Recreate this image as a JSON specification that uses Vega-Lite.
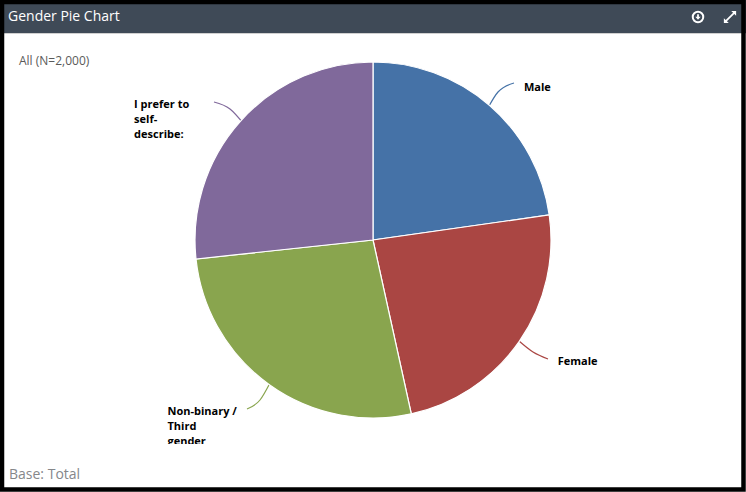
{
"$schema":"https://vega.github.io/schema/vega-lite/v6.json",
"width":746,"height":480,
"autosize":{"type":"none"},
"padding":{"left":0,"top":0,"right":0,"bottom":12},
"background":"#ffffff",
"config":{"view":{"stroke":null},"text":{"font":"Open Sans"}},
"datasets":{
"pie":[
{"category":"Male","count":455,"rank":1,"label":"Male"},
{"category":"Female","count":476,"rank":2,"label":"Female"},
{"category":"Non-binary / Third gender","count":535,"rank":3,"label":"Non-binary /\nThird\ngender"},
{"category":"I prefer to self-describe:","count":534,"rank":4,"label":"I prefer to\nself-\ndescribe:"}
],
"leaders":[
{"category":"Male","px":489,"py":106},{"category":"Male","px":498,"py":92},{"category":"Male","px":514,"py":83},
{"category":"Female","px":519,"py":341},{"category":"Female","px":533,"py":352},{"category":"Female","px":548,"py":359},
{"category":"Non-binary / Third gender","px":270,"py":383},{"category":"Non-binary / Third gender","px":260,"py":400},{"category":"Non-binary / Third gender","px":247,"py":409},
{"category":"I prefer to self-describe:","px":214,"py":102},{"category":"I prefer to self-describe:","px":230,"py":109},{"category":"I prefer to self-describe:","px":243,"py":123}
]
},
"data":{"name":"pie"},
"layer":[
{"data":{"name":"leaders"},
 "mark":{"type":"line","interpolate":"monotone","strokeWidth":1.2},
 "encoding":{
  "x":{"field":"px","type":"quantitative","scale":{"domain":[0,746],"range":[0,746],"nice":false,"zero":false},"axis":null},
  "y":{"field":"py","type":"quantitative","scale":{"domain":[0,480],"range":[0,480],"nice":false,"zero":false},"axis":null},
  "detail":{"field":"category"},
  "color":{"field":"category","type":"nominal","legend":null,"scale":{"domain":["Male","Female","Non-binary / Third gender","I prefer to self-describe:"],"range":["#4572A7","#AA4643","#89A54E","#80699B"]}}
 }},
{"mark":{"type":"arc","outerRadius":178,"stroke":"#ffffff","strokeWidth":1.2},
 "encoding":{
  "theta":{"field":"count","type":"quantitative","stack":true,"scale":{"domain":[0,2000]}},
  "order":{"field":"rank","type":"ordinal"},
  "color":{"field":"category","type":"nominal","legend":null}
 }},
{"mark":{"type":"text","radius":215,"dx":10,"dy":10,"align":"left","baseline":"middle","fontSize":11,"fontWeight":"bold","lineHeight":15,"lineBreak":"\n","fill":"#000000"},
 "encoding":{"theta":{"field":"count","type":"quantitative","stack":true},"order":{"field":"rank","type":"ordinal"},
  "text":{"condition":{"test":"datum.category==='Male'","field":"label"},"value":""}}},
{"mark":{"type":"text","radius":215,"dx":8,"dy":-1,"align":"left","baseline":"middle","fontSize":11,"fontWeight":"bold","lineHeight":15,"lineBreak":"\n","fill":"#000000"},
 "encoding":{"theta":{"field":"count","type":"quantitative","stack":true},"order":{"field":"rank","type":"ordinal"},
  "text":{"condition":{"test":"datum.category==='Female'","field":"label"},"value":""}}},
{"mark":{"type":"text","radius":215,"dx":-80,"dy":-3,"align":"left","baseline":"middle","fontSize":11,"fontWeight":"bold","lineHeight":15,"lineBreak":"\n","fill":"#000000"},
 "encoding":{"theta":{"field":"count","type":"quantitative","stack":true},"order":{"field":"rank","type":"ordinal"},
  "text":{"condition":{"test":"datum.rank===3","field":"label"},"value":""}}},
{"mark":{"type":"text","radius":215,"dx":-79,"dy":9,"align":"left","baseline":"middle","fontSize":11,"fontWeight":"bold","lineHeight":15,"lineBreak":"\n","fill":"#000000"},
 "encoding":{"theta":{"field":"count","type":"quantitative","stack":true},"order":{"field":"rank","type":"ordinal"},
  "text":{"condition":{"test":"datum.rank===4","field":"label"},"value":""}}},
{"data":{"values":[{}]},"mark":{"type":"rect","fill":"#ffffff"},
 "encoding":{"x":{"datum":100},"x2":{"datum":300},"y":{"datum":444},"y2":{"datum":462}}},
{"data":{"values":[{}]},"mark":{"type":"rect","fill":"#3F4A57"},
 "encoding":{"x":{"datum":0},"x2":{"datum":746},"y":{"datum":0},"y2":{"datum":33}}},
{"data":{"values":[{}]},"mark":{"type":"rect","fill":"#D0D0D0"},
 "encoding":{"x":{"datum":0},"x2":{"datum":746},"y":{"datum":33},"y2":{"datum":34}}},
{"data":{"values":[{}]},"mark":{"type":"rect","fill":"none","stroke":"#000000","strokeWidth":4.5},
 "encoding":{"x":{"datum":2},"x2":{"datum":743.5},"y":{"datum":2},"y2":{"datum":489.5}}},
{"data":{"values":[{}]},"mark":{"type":"text","text":"Gender Pie Chart","align":"left","baseline":"middle","fontSize":14,"fill":"#ffffff"},
 "encoding":{"x":{"datum":8},"y":{"datum":17}}},
{"data":{"values":[{}]},"mark":{"type":"text","text":"All (N=2,000)","align":"left","baseline":"middle","fontSize":12,"fill":"#5a5a5a"},
 "encoding":{"x":{"datum":19},"y":{"datum":61}}},
{"data":{"values":[{}]},"mark":{"type":"text","text":"Base: Total","align":"left","baseline":"middle","fontSize":14,"fill":"#85878a"},
 "encoding":{"x":{"datum":9},"y":{"datum":475}}},
{"data":{"values":[{}]},"mark":{"type":"point","shape":"circle","filled":false,"stroke":"#ffffff","strokeWidth":2,"size":110,"opacity":1},
 "encoding":{"x":{"datum":698},"y":{"datum":17}}},
{"data":{"values":[{}]},"mark":{"type":"point","shape":"M-0.3,-0.9L0.3,-0.9L0.3,-0.1L0.9,-0.1L0,0.9L-0.9,-0.1L-0.3,-0.1Z","filled":true,"fill":"#ffffff","size":36,"opacity":1},
 "encoding":{"x":{"datum":698},"y":{"datum":17}}},
{"data":{"values":[{}]},"mark":{"type":"point","shape":"M0.2,-1L1,-1L1,-0.2L0.7,-0.5L-0.5,0.7L-0.2,1L-1,1L-1,0.2L-0.7,0.5L0.5,-0.7Z","filled":true,"fill":"#ffffff","size":150,"opacity":1},
 "encoding":{"x":{"datum":730},"y":{"datum":17}}}
]
}
